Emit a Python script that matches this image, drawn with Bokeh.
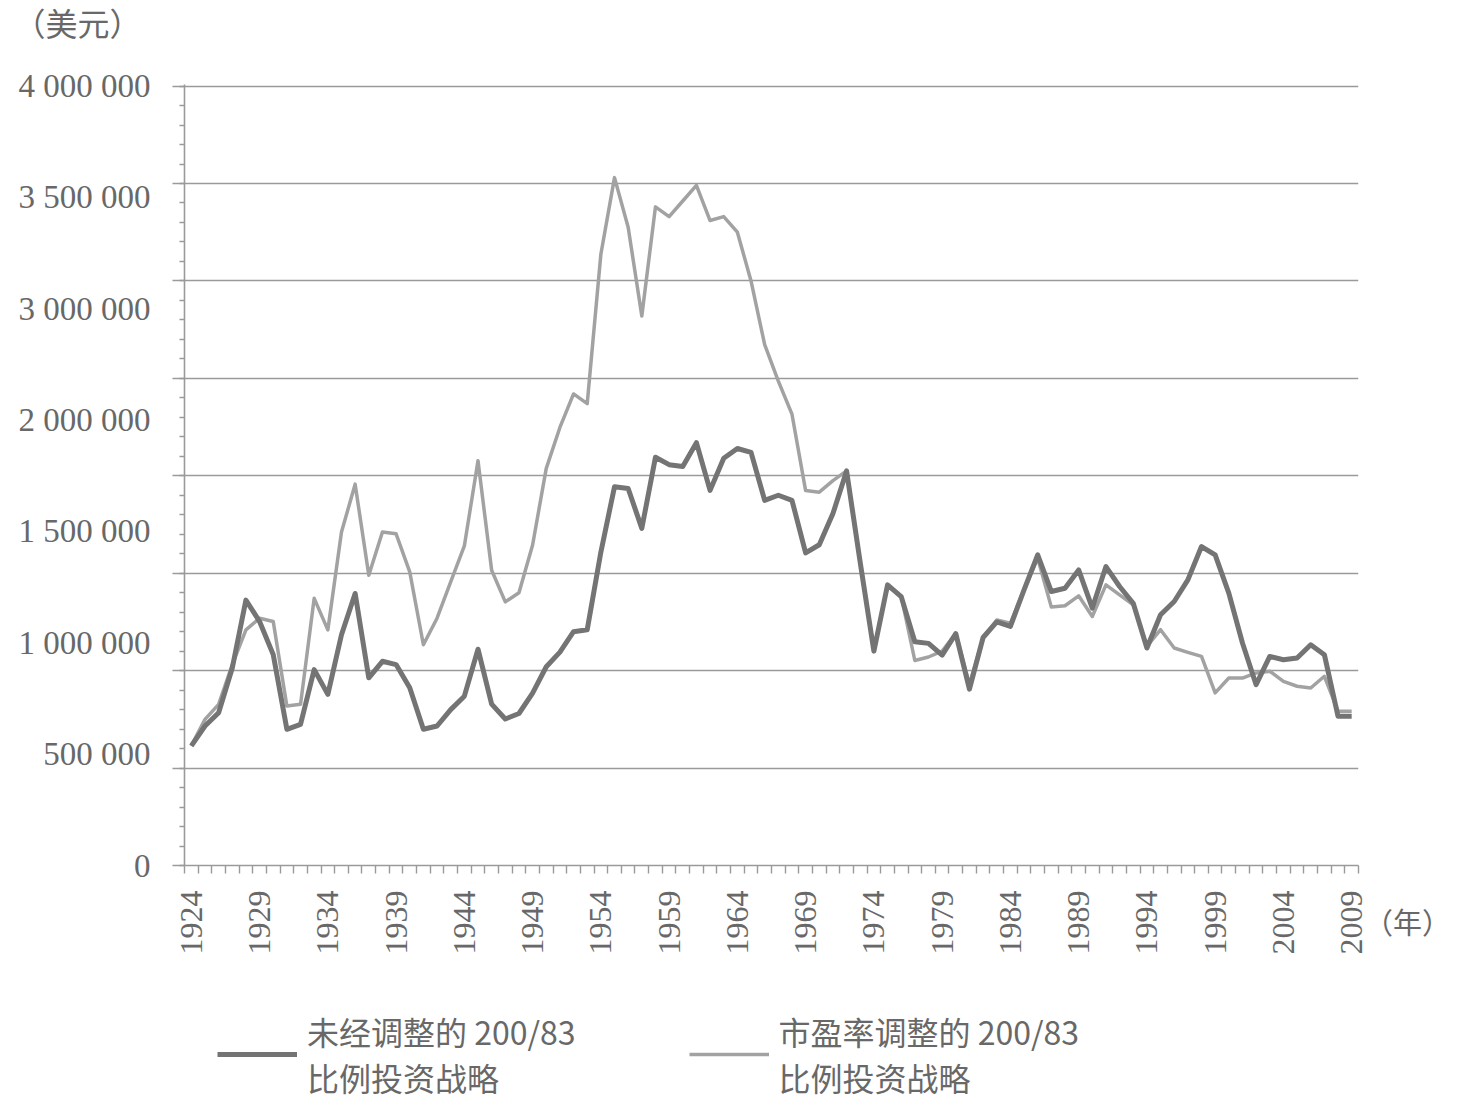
import math
from bokeh.plotting import figure
from bokeh.layouts import column
from bokeh.models import (Range1d, FixedTicker, LinearAxis, Legend, LegendItem, Label)
from bokeh.embed import file_html
from bokeh.resources import INLINE

years = list(range(1924, 2010))

# 未经调整的 200/83 比例投资战略 (美元)
unadjusted = [
    614000, 716000, 784000, 1014000, 1362000, 1252000, 1082000, 699000, 724000, 1005000,
    878000, 1184000, 1396000, 963000, 1048000, 1031000, 912000, 699000, 716000, 800000,
    869000, 1110000, 828000, 752000, 780000, 885000, 1020000, 1095000, 1200000, 1210000,
    1608000, 1944000, 1935000, 1730000, 2095000, 2057000, 2048000, 2170000, 1925000, 2090000,
    2140000, 2120000, 1874000, 1900000, 1874000, 1604000, 1646000, 1806000, 2025000, 1554000,
    1100000, 1440000, 1380000, 1148000, 1140000, 1080000, 1190000, 905000, 1170000, 1250000,
    1227000, 1415000, 1594000, 1406000, 1423000, 1517000, 1321000, 1534000, 1432000, 1346000,
    1116000, 1287000, 1355000, 1466000, 1637000, 1594000, 1398000, 1142000, 928000, 1073000,
    1056000, 1065000, 1133000, 1082000, 766000, 766000,
]

# 市盈率调整的 200/83 比例投资战略 (美元)
pe_adjusted = [
    614000, 750000, 827000, 1031000, 1209000, 1269000, 1252000, 818000, 827000, 1371000,
    1209000, 1711000, 1957000, 1490000, 1711000, 1702000, 1507000, 1133000, 1269000, 1456000,
    1640000, 2077000, 1515000, 1353000, 1400000, 1645000, 2038000, 2248000, 2420000, 2370000,
    3137000, 3530000, 3275000, 2820000, 3380000, 3330000, 3410000, 3490000, 3310000, 3330000,
    3250000, 3000000, 2673000, 2486000, 2316000, 1924000, 1916000, 1975000, 2025000, 1554000,
    1104000, 1434000, 1382000, 1052000, 1070000, 1100000, 1190000, 930000, 1170000, 1260000,
    1244000, 1415000, 1577000, 1326000, 1333000, 1384000, 1278000, 1440000, 1389000, 1338000,
    1125000, 1210000, 1116000, 1094000, 1073000, 886000, 962000, 962000, 988000, 997000,
    945000, 920000, 911000, 971000, 792000, 792000,
]

# y-axis tick labels exactly as printed in the source
y_tick_labels = ["0", "500 000", "1 000 000", "1 500 000", "2 000 000",
                 "3 000 000", "3 500 000", "4 000 000"]
grid_values = [i * 500000 for i in range(9)]
x_tick_years = list(range(1924, 2010, 5))
series_names = ["未经调整的 200/83\n比例投资战略", "市盈率调整的 200/83\n比例投资战略"]
y_unit = "（美元）"
x_unit = "（年）"

TEXT = "#686868"
GRID = "#9a9a9a"
DARK = "#747474"
LIGHT = "#a2a2a2"
SERIF = "Liberation Serif"
CJK = "Noto Sans CJK SC"

Y_TOP = 4008000          # a hair above 4 000 000 so the top grid line is fully visible
LAB_TOP = (len(y_tick_labels) - 1) * Y_TOP / 4000000

p = figure(width=1455, height=975, output_backend="svg", toolbar_location=None,
           x_range=Range1d(1923.5, 2009.5), y_range=Range1d(0, Y_TOP),
           min_border_left=184, min_border_right=97, min_border_top=84,
           min_border_bottom=110)
p.outline_line_color = None
p.background_fill_color = "white"
p.border_fill_color = "white"

# grid every 500 000
p.xgrid.visible = False
p.ygrid.ticker = FixedTicker(ticks=grid_values)
p.ygrid.grid_line_color = GRID
p.ygrid.grid_line_width = 1.6

# main y axis: tick marks only (its numeric labels are not painted)
ya = p.yaxis[0]
ya.ticker = FixedTicker(ticks=grid_values, minor_ticks=[i * 100000 for i in range(41)])
ya.axis_line_color = GRID
ya.axis_line_width = 1.6
ya.major_tick_line_color = GRID
ya.major_tick_line_width = 1.6
ya.major_tick_out = 12
ya.major_tick_in = 0
ya.minor_tick_line_color = GRID
ya.minor_tick_line_width = 1.4
ya.minor_tick_out = 5
ya.minor_tick_in = 0
ya.major_label_text_font_size = "1px"
ya.major_label_text_color = None
ya.major_label_standoff = 0

# label axis (labels as printed)
p.extra_y_ranges = {"lab": Range1d(0, LAB_TOP)}
la = LinearAxis(y_range_name="lab",
                ticker=FixedTicker(ticks=list(range(len(y_tick_labels))), minor_ticks=[]),
                major_label_overrides={i: t for i, t in enumerate(y_tick_labels)})
la.axis_line_color = None
la.major_tick_line_color = None
la.minor_tick_line_color = None
la.major_tick_out = 0
la.major_tick_in = 0
la.minor_tick_out = 0
la.minor_tick_in = 0
la.major_label_standoff = 22
la.major_label_text_font = SERIF
la.major_label_text_font_size = "33px"
la.major_label_text_color = TEXT
p.add_layout(la, "left")

# x axis
xa = p.xaxis[0]
xa.ticker = FixedTicker(ticks=x_tick_years,
                        minor_ticks=[y - 0.5 for y in years] + [years[-1] + 0.5])
xa.axis_line_color = GRID
xa.axis_line_width = 1.6
xa.major_tick_line_color = None
xa.major_tick_out = 0
xa.major_tick_in = 0
xa.minor_tick_line_color = GRID
xa.minor_tick_line_width = 1.4
xa.minor_tick_out = 8
xa.minor_tick_in = 0
xa.major_label_orientation = math.pi / 2
xa.major_label_standoff = 17
xa.major_label_text_font = SERIF
xa.major_label_text_font_size = "32px"
xa.major_label_text_color = TEXT

p.line(years, pe_adjusted, line_color=LIGHT, line_width=3.5, line_join="round")
p.line(years, unadjusted, line_color=DARK, line_width=5, line_join="round")

# unit labels, placed in the side panels (canvas pixel positions)
p.add_layout(Label(x=77, y=21, x_units="canvas", y_units="canvas", text=y_unit,
                   text_font=CJK, text_font_size="32px", text_color=TEXT,
                   text_align="center", text_baseline="middle"), "above")
p.add_layout(Label(x=1407, y=920, x_units="canvas", y_units="canvas", text=x_unit,
                   text_font=CJK, text_font_size="29px", text_color=TEXT,
                   text_align="center", text_baseline="middle"), "right")

# legend strip under the chart
lg = figure(width=1455, height=125, output_backend="svg", toolbar_location=None,
            x_range=Range1d(0, 1), y_range=Range1d(0, 1),
            min_border_left=0, min_border_right=0, min_border_top=0, min_border_bottom=0)
lg.axis.visible = False
lg.grid.visible = False
lg.outline_line_color = None
lg.background_fill_color = "white"
lg.border_fill_color = "white"
# the same series (outside this strip's view) supply the legend samples
k_dark = lg.line(years, unadjusted, line_color=DARK, line_width=5)
k_light = lg.line(years, pe_adjusted, line_color=LIGHT, line_width=3.5)
legend = Legend(items=[LegendItem(label=series_names[0], renderers=[k_dark]),
                       LegendItem(label=series_names[1], renderers=[k_light])],
                orientation="horizontal", location=(33, 0))
legend.border_line_color = None
legend.background_fill_alpha = 0
legend.padding = 0
legend.margin = 0
legend.spacing = 113
legend.glyph_width = 80
legend.glyph_height = 60
legend.label_standoff = 10
legend.label_text_font = CJK
legend.label_text_font_size = "32px"
legend.label_text_color = TEXT
legend.label_text_line_height = 1.5
lg.add_layout(legend)

page = column(p, lg, spacing=0)
open("out.html", "w").write(file_html(page, INLINE))
